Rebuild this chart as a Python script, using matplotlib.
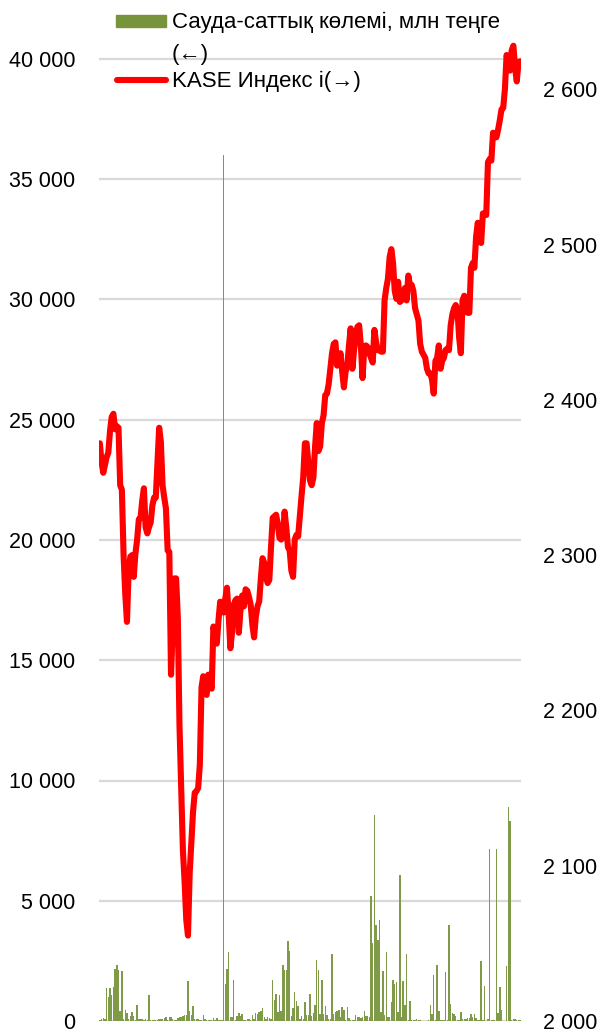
import matplotlib
matplotlib.use("Agg")
import matplotlib.pyplot as plt
from matplotlib.lines import Line2D
from matplotlib.patches import Rectangle
from matplotlib.ticker import FuncFormatter, FixedLocator

plt.rcParams['font.family'] = ['Liberation Sans', 'DejaVu Sans']

# ---- data ----
volume = [
    60, 80, 120, 100, 1370, 1000, 1370, 1100, 1400, 2180,
    2320, 2130, 400, 2070, 100, 470, 330, 100, 220, 360,
    190, 60, 670, 90, 100, 80, 40, 100, 60, 1100,
    50, 40, 50, 40, 50, 80, 100, 80, 120, 150,
    60, 150, 150, 100, 60, 50, 120, 170, 170, 220,
    260, 250, 1680, 430, 260, 610, 80, 70, 70, 30,
    30, 250, 100, 30, 30, 30, 60, 120, 30, 120,
    30, 30, 40, 36000, 1550, 2180, 2850, 180, 180, 1690,
    60, 200, 330, 220, 290, 50, 50, 80, 90, 50,
    260, 100, 330, 300, 360, 430, 540, 150, 100, 170,
    110, 80, 1720, 860, 1140, 390, 1070, 400, 2340, 2130,
    2130, 3340, 2920, 200, 540, 1190, 850, 640, 100, 200,
    100, 780, 260, 260, 1140, 200, 330, 650, 2550, 2110,
    300, 1720, 300, 640, 260, 100, 100, 2800, 300, 360,
    430, 470, 150, 580, 440, 50, 570, 120, 50, 50,
    50, 240, 180, 150, 120, 180, 400, 220, 220, 150,
    5200, 3250, 8550, 4000, 3350, 4200, 360, 2070, 260, 2850,
    150, 150, 790, 1720, 1550, 1620, 360, 6050, 150, 1650,
    650, 2800, 50, 820, 50, 40, 50, 80, 50, 30,
    20, 20, 20, 20, 30, 670, 300, 1900, 60, 2340,
    400, 50, 50, 50, 2040, 50, 4000, 720, 330, 300,
    220, 50, 30, 360, 70, 70, 70, 110, 110, 300,
    170, 300, 110, 50, 50, 2480, 50, 1470, 20, 80,
    7150, 50, 50, 50, 7150, 330, 1400, 440, 20, 20,
    2270, 8900, 8300, 50, 80, 80, 50, 30, 30,
]

kase = [
    2372, 2360, 2353, 2358, 2363, 2366, 2380, 2389, 2391, 2381,
    2383, 2382, 2345, 2342, 2300, 2275, 2257, 2290, 2299, 2300,
    2286, 2301, 2310, 2323, 2324, 2335, 2343, 2318, 2314, 2318,
    2321, 2332, 2337, 2337, 2360, 2382, 2373, 2345, 2337, 2330,
    2303, 2302, 2223, 2252, 2285, 2285, 2260, 2190, 2150, 2110,
    2090, 2065, 2055, 2095, 2115, 2135, 2147, 2148, 2150, 2165,
    2215, 2222, 2212, 2210, 2223, 2218, 2214, 2254, 2248, 2243,
    2258, 2270, 2268, 2263, 2272, 2279, 2262, 2240, 2250, 2268,
    2271, 2272, 2250, 2265, 2274, 2267, 2278, 2277, 2273, 2268,
    2255, 2247, 2260, 2267, 2270, 2285, 2298, 2295, 2286, 2282,
    2284, 2305, 2324, 2325, 2326, 2320, 2311, 2310, 2312, 2328,
    2318, 2305, 2303, 2290, 2286, 2310, 2313, 2312, 2325, 2338,
    2350, 2372, 2372, 2360, 2348, 2345, 2350, 2370, 2385, 2367,
    2370, 2385, 2390, 2403, 2404, 2410, 2420, 2430, 2436, 2437,
    2422, 2425, 2430, 2418, 2408, 2418, 2422, 2435, 2446, 2420,
    2432, 2442, 2447, 2448, 2435, 2414, 2433, 2435, 2434, 2430,
    2427, 2424, 2445, 2437, 2432, 2432, 2431, 2431, 2464, 2472,
    2478, 2492, 2497, 2488, 2470, 2465, 2476, 2463, 2464, 2467,
    2472, 2464, 2480, 2474, 2474, 2470, 2459, 2455, 2451, 2436,
    2431, 2429, 2427, 2420, 2417, 2417, 2413, 2404, 2425, 2427,
    2435, 2420, 2425, 2427, 2432, 2433, 2432, 2448, 2455, 2459,
    2461, 2458, 2440, 2430, 2464, 2467, 2458, 2456, 2456, 2485,
    2488, 2485, 2505, 2514, 2505, 2501, 2520, 2520, 2519, 2553,
    2555, 2554, 2572, 2570, 2569, 2574, 2580, 2587, 2588, 2600,
    2622, 2617, 2612, 2625, 2628, 2614, 2605, 2617, 2618,
]

left_ticks = [0, 5000, 10000, 15000, 20000, 25000, 30000, 35000, 40000]
right_ticks = [2000, 2100, 2200, 2300, 2400, 2500, 2600]
label_volume = "Сауда-саттық көлемі, млн теңге\n(←)"
label_kase = "KASE Индекс і(→)"

BAR_COLOR = "#7f9a48"
LINE_COLOR = "#ff0000"

W, H = 600, 1035
fig = plt.figure(figsize=(W / 100, H / 100), dpi=100)
x0, x1 = 99, 521
ytop, ybot = 8, 1021
ax = fig.add_axes([x0 / W, 1 - ybot / H, (x1 - x0) / W, (ybot - ytop) / H])

n = len(volume)
xs = list(range(n))
ax.bar(xs, volume, width=0.85, color=BAR_COLOR, linewidth=0, zorder=2)
ax.set_xlim(-0.5, n - 0.5)
ax.set_ylim(0, 5000 * (ybot - ytop) / 120.25)
ax.yaxis.set_major_locator(FixedLocator(left_ticks))
fmt = FuncFormatter(lambda v, p: f"{int(v):,}".replace(",", " "))
ax.yaxis.set_major_formatter(fmt)
ax.grid(axis="y", color="#d9d9d9", linewidth=1.6, zorder=0)
ax.set_axisbelow(True)
ax.set_xticks([])
for s in ax.spines.values():
    s.set_visible(False)
ax.tick_params(axis="y", length=0, pad=17, labelsize=15.5, colors="black")

ax2 = ax.twinx()
ax2.plot(xs, kase, color=LINE_COLOR, linewidth=4.4, solid_joinstyle="round",
         solid_capstyle="round", zorder=3)
ax2.set_ylim(2000, 2000 + (ybot - ytop) / 1.553)
ax2.yaxis.set_major_locator(FixedLocator(right_ticks))
ax2.yaxis.set_major_formatter(fmt)
for s in ax2.spines.values():
    s.set_visible(False)
ax2.tick_params(axis="y", length=0, pad=16, labelsize=15.5, colors="black")
ax2.set_xlim(-0.5, n - 0.5)

# ---- legend (drawn in figure pixel space) ----
def fx(px):
    return px / W

def fy(py):
    return 1 - py / H

fig.patches.append(Rectangle((fx(116), fy(27)), fx(166) - fx(116), fy(15) - fy(27),
                             transform=fig.transFigure, color="#77933c"))
fig.text(fx(172), fy(12), label_volume, fontsize=16, va="top", ha="left",
         linespacing=1.7, color="black")
fig.lines.append(Line2D([fx(117), fx(166)], [fy(80), fy(80)], transform=fig.transFigure,
                        color=LINE_COLOR, linewidth=4.4, solid_capstyle="round"))
fig.text(fx(172), fy(81), label_kase, fontsize=16, va="center", ha="left", color="black")

fig.savefig("out.png", dpi=100)
